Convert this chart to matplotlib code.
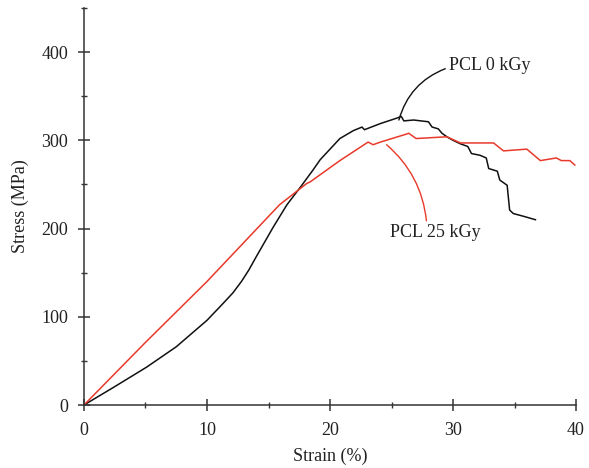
import numpy as np
import matplotlib.pyplot as plt
from matplotlib.ticker import MultipleLocator

plt.rcParams['font.family'] = ['Liberation Serif', 'DejaVu Serif']

# PCL 0 kGy (black)
strain_0 = [0, 2.4, 5.1, 7.5, 10.0, 11.3, 12.1, 12.8, 13.4, 14.0, 15.4, 16.5, 17.6,
            18.6, 19.2, 20.8, 21.9, 22.6, 22.8, 24.1, 25.4, 25.8, 26.0, 26.8, 28.0,
            28.3, 28.8, 29.1, 29.5, 30.0, 30.6, 31.2, 31.5, 32.2, 32.7, 32.9, 33.6,
            33.8, 34.4, 34.6, 34.9, 35.7, 36.7]
stress_0 = [0, 20, 43, 66, 96, 115, 127, 140, 153, 168, 202, 227, 247,
            266, 278, 302, 311, 315, 312, 319, 325, 327, 322, 323, 321,
            315, 313, 308, 304, 300, 296, 293, 285, 283, 280, 268, 265,
            255, 249, 221, 217, 214, 210]

# PCL 25 kGy (red)
strain_25 = [0, 5, 10, 15.9, 18.1, 18.4, 20.8, 23.1, 23.5, 24.1, 26.2, 26.4, 27.0,
             29.5, 30.6, 33.3, 34.1, 36.0, 37.1, 38.4, 38.8, 39.5, 39.9]
stress_25 = [0, 71, 140, 227, 251, 253, 277, 298, 295, 298, 307, 308, 302,
             304, 297, 297, 288, 290, 277, 280, 277, 277, 272]

fig = plt.figure(figsize=(5.89, 4.68), dpi=100)
ax = fig.add_axes([0.1426, 0.1346, 0.8354, 0.8484])

ax.plot(strain_0, stress_0, color='#111111', lw=1.1)
ax.plot(strain_25, stress_25, color='#e8392a', lw=1.1)

ax.annotate('PCL 0 kGy', xy=(25.6, 323), xytext=(29.7, 385), fontsize=13,
            va='center', ha='left', color='#222222',
            arrowprops=dict(arrowstyle='-', color='#111111', lw=1.0,
                            shrinkA=0, shrinkB=0, relpos=(-0.05, 0.3),
                            connectionstyle='arc3,rad=0.25'))
ax.annotate('PCL 25 kGy', xy=(24.6, 295), xytext=(24.9, 196), fontsize=13,
            va='center', ha='left', color='#222222',
            arrowprops=dict(arrowstyle='-', color='#e8392a', lw=1.0,
                            shrinkA=0, shrinkB=0, relpos=(0.4, 1.1),
                            connectionstyle='arc3,rad=0.2'))

ax.set_xlim(0, 40)
ax.set_ylim(0, 450)
ax.xaxis.set_major_locator(MultipleLocator(10))
ax.xaxis.set_minor_locator(MultipleLocator(5))
ax.set_yticks([0, 100, 200, 300, 400])
ax.yaxis.set_minor_locator(MultipleLocator(50))

for s in ['top', 'right']:
    ax.spines[s].set_visible(False)
for s in ['left', 'bottom']:
    ax.spines[s].set_color('#333333')
    ax.spines[s].set_linewidth(1.1)

ax.tick_params(which='major', direction='inout', length=9, width=1.1,
               color='#333333', labelsize=13, labelcolor='#222222')
ax.tick_params(axis='x', which='major', pad=8)
ax.tick_params(axis='y', which='major', pad=7)
ax.tick_params(which='minor', direction='inout', length=5, width=1.0, color='#333333')

ax.set_xlabel('Strain (%)', fontsize=13, color='#222222', labelpad=6)
ax.set_ylabel('Stress (MPa)', fontsize=13, color='#222222', labelpad=9)

fig.savefig('out.png', dpi=100)
